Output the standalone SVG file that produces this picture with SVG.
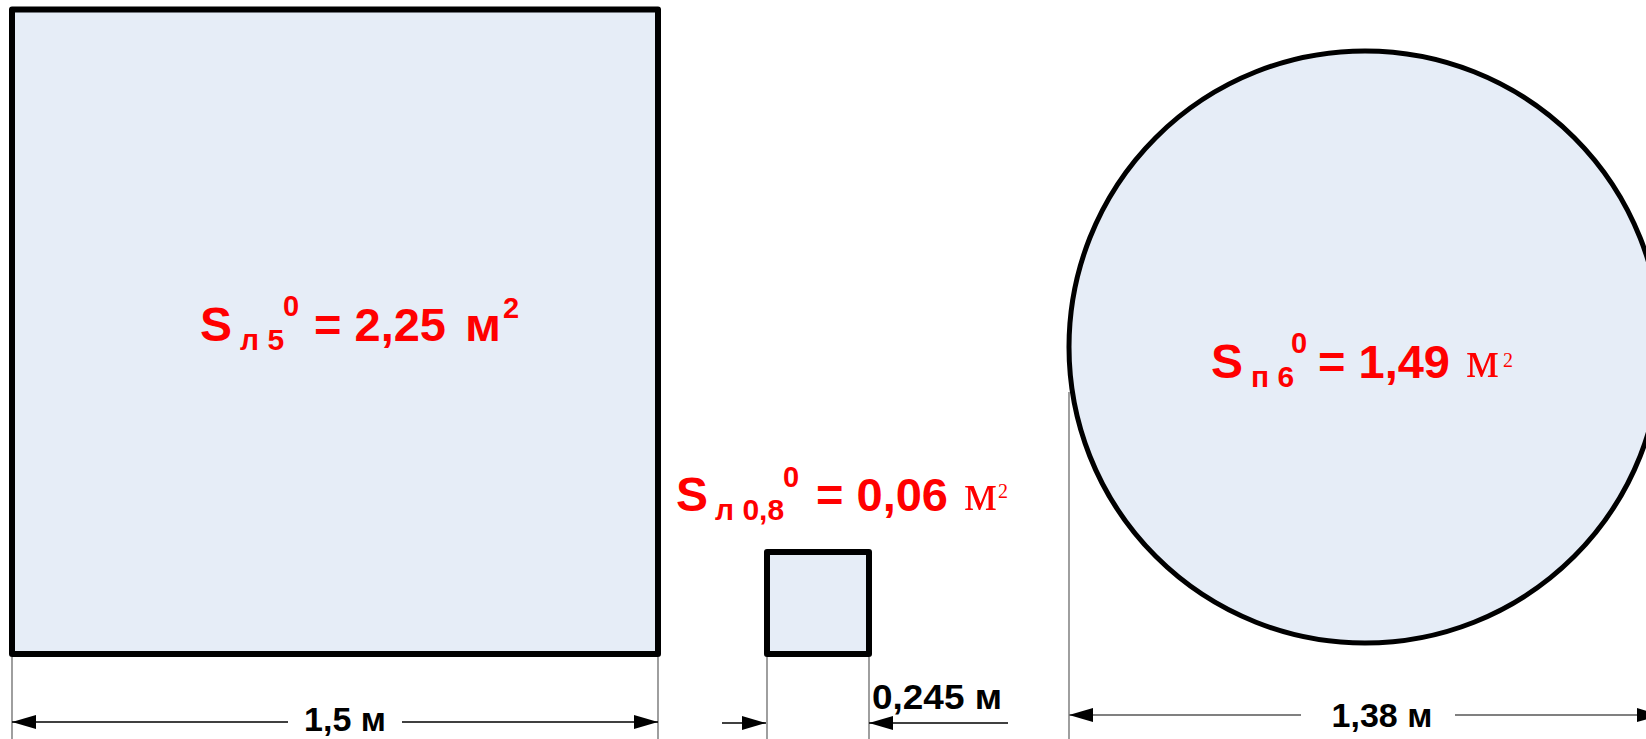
<svg xmlns="http://www.w3.org/2000/svg" width="1646" height="739" viewBox="0 0 1646 739">
  <defs>
    <marker id="arrow" viewBox="0 0 24 14" refX="24" refY="7" markerWidth="24" markerHeight="14" markerUnits="userSpaceOnUse" orient="auto-start-reverse">
      <path d="M0,0 L24,7 L0,14 z" fill="#000"/>
    </marker>
    <style>
      .shape { fill: #E6EDF7; stroke: #000; stroke-width: 6; stroke-linejoin: round; }
      .circ { fill: #E6EDF7; stroke: #000; stroke-width: 5; }
      .ext { stroke: #6b6b6b; stroke-width: 1.3; fill: none; }
      .dim { stroke: #000; stroke-width: 1.5; fill: none; }
      .dimg { stroke: #808080; stroke-width: 2; fill: none; }
      .lbl { font-family: "Liberation Sans", Arial, sans-serif; font-weight: bold; fill: #FF0000; }
      .ser { font-family: "Liberation Serif", "Times New Roman", serif; font-weight: normal; fill: #FF0000; }
      .dtxt { font-family: "Liberation Sans", Arial, sans-serif; font-weight: bold; fill: #000; }
    </style>
  </defs>

  <g id="square-large">
    <rect class="shape" x="12" y="9.5" width="646" height="644.5"/>
    <text class="lbl">
      <tspan x="200" y="341" font-size="48">S</tspan>
      <tspan x="240" y="350" font-size="30">л 5</tspan>
      <tspan x="283" y="316" font-size="29">0</tspan>
      <tspan x="314" y="341" font-size="47">= 2,25</tspan>
      <tspan x="465" y="341" font-size="47" textLength="36" lengthAdjust="spacingAndGlyphs">м</tspan>
      <tspan x="503" y="318" font-size="29">2</tspan>
    </text>
  </g>

  <g id="square-small">
    <rect class="shape" x="767" y="552" width="102" height="102"/>
    <text class="lbl">
      <tspan x="676" y="511" font-size="48">S</tspan>
      <tspan x="715" y="520" font-size="30">л 0,8</tspan>
      <tspan x="783" y="487" font-size="29">0</tspan>
      <tspan x="816" y="511" font-size="47">= 0,06</tspan>
    </text>
    <text class="ser">
      <tspan x="964" y="510" font-size="52">м</tspan>
      <tspan x="998" y="498" font-size="20">2</tspan>
    </text>
  </g>

  <g id="circle">
    <circle class="circ" cx="1365" cy="347" r="296"/>
    <text class="lbl">
      <tspan x="1211" y="378" font-size="48">S</tspan>
      <tspan x="1251" y="387" font-size="30">п 6</tspan>
      <tspan x="1291" y="353" font-size="29">0</tspan>
      <tspan x="1318" y="378" font-size="47">= 1,49</tspan>
    </text>
    <text class="ser">
      <tspan x="1466" y="377" font-size="52">м</tspan>
      <tspan x="1503" y="367" font-size="20">2</tspan>
    </text>
  </g>

  <g id="connectors">
    <!-- large square dimension -->
    <line class="ext" x1="12" y1="657" x2="12" y2="739"/>
    <line class="ext" x1="658" y1="657" x2="658" y2="739"/>
    <line class="dim" x1="12" y1="722" x2="288" y2="722" marker-start="url(#arrow)"/>
    <line class="dim" x1="402" y1="722" x2="658" y2="722" marker-end="url(#arrow)"/>
    <text class="dtxt" x="345" y="731" font-size="34" text-anchor="middle">1,5 м</text>

    <!-- small square dimension -->
    <line class="ext" x1="767" y1="657" x2="767" y2="739"/>
    <line class="ext" x1="869" y1="657" x2="869" y2="739"/>
    <line class="dim" x1="722" y1="723" x2="766" y2="723" marker-end="url(#arrow)"/>
    <line class="dim" x1="1008" y1="723" x2="869" y2="723" marker-end="url(#arrow)"/>
    <text class="dtxt" x="872" y="709" font-size="35" textLength="130" lengthAdjust="spacingAndGlyphs">0,245 м</text>

    <!-- circle dimension -->
    <line class="ext" x1="1069" y1="392" x2="1069" y2="739"/>
    <line class="dimg" x1="1069" y1="715" x2="1301" y2="715" marker-start="url(#arrow)"/>
    <line class="dimg" x1="1455" y1="715" x2="1661" y2="715" marker-end="url(#arrow)"/>
    <text class="dtxt" x="1382" y="727" font-size="34" text-anchor="middle">1,38 м</text>
  </g>
</svg>
